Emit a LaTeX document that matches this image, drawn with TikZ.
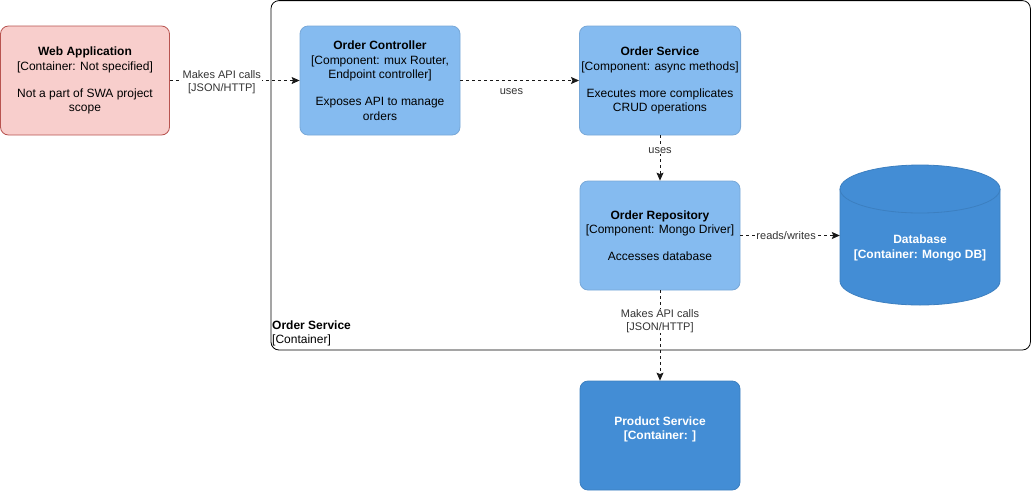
\documentclass[tikz,border=0pt]{standalone}
\usepackage{fontspec}
\setmainfont{Liberation Sans}
\usetikzlibrary{arrows.meta}
\definecolor{webfill}{HTML}{F8CECC}
\definecolor{webline}{HTML}{B85450}
\definecolor{compfill}{HTML}{85BBF0}
\definecolor{compline}{HTML}{78A8D8}
\definecolor{contfill}{HTML}{438DD5}
\definecolor{contline}{HTML}{3C7FC0}
\definecolor{labeltext}{HTML}{333333}
\begin{document}
\begin{tikzpicture}[x=1pt,y=-1pt,
  box/.style={rectangle,rounded corners=8pt,minimum width=160pt,minimum height=109pt,
    align=center,inner sep=2pt,line width=0.8pt,
    font=\fontsize{12}{14.5}\selectfont},
  webbox/.style={box,fill=webfill,draw=webline,text=black},
  compbox/.style={box,fill=compfill,draw=compline,text=black},
  contbox/.style={box,fill=contfill,draw=contline,text=white,font=\fontsize{12}{14.5}\selectfont\bfseries},
  rel/.style={dash pattern=on 3pt off 3pt,line width=0.8pt,draw=black!90,
    -{Stealth[length=8pt,width=7pt,inset=1.5pt]}},
  rellabel/.style={fill=white,inner sep=1pt,align=center,text=labeltext,
    font=\fontsize{11}{12.5}\selectfont}
]
\useasboundingbox (0,0) rectangle (1031,491);

% system boundary
\draw[rounded corners=8pt,line width=0.8pt,fill=white] (271,0.6) rectangle (1030.4,350);
\node[anchor=west,align=left,inner sep=1pt,font=\fontsize{12}{14}\selectfont] (bnd) at (271,333)
  {\textbf{Order Service}\\{[Container]}};

% nodes
\node[webbox,minimum width=169pt] (web) at (85,80.5)
  {\textbf{Web Application}\\{[Container: Not specified]}\\[12.5pt]Not a part of SWA project\\scope};
\node[compbox] (oc) at (380,80.5)
  {\textbf{Order Controller}\\{[Component: mux Router,}\\Endpoint controller]\\[12.5pt]Exposes API to manage\\orders};
\node[compbox] (os) at (660,80.5)
  {\textbf{Order Service}\\{[Component: async methods]}\\[12.5pt]Executes more complicates\\CRUD operations};
\node[compbox] (or) at (660,235.5)
  {\textbf{Order Repository}\\{[Component: Mongo Driver]}\\[12.5pt]Accesses database};
\node[contbox] (ps) at (660,435.5)
  {Product Service\\{[Container: ]}\\\mbox{}};

% database cylinder
\path[fill=contfill,draw=contline,line width=0.8pt]
  (840,189) -- (840,281) arc[start angle=180,end angle=0,x radius=80,y radius=24]
  -- (1000,189) arc[start angle=0,end angle=-180,x radius=80,y radius=24] -- cycle;
\draw[contline,line width=0.8pt] (840,189) arc[start angle=180,end angle=0,x radius=80,y radius=24];
\node[rectangle,minimum width=160pt,minimum height=139pt,inner sep=0pt,align=center,text=white,
  font=\fontsize{12}{14.5}\selectfont\bfseries] (db) at (920,248)
  {Database\\{[Container: Mongo DB]}};

% relationships
\draw[rel] (web.east) -- node[rellabel,pos=0.4,yshift=-1.5pt] {Makes API calls\\{[JSON/HTTP]}} (oc.west);
\draw[rel] (oc.east) -- node[rellabel,pos=0.43,yshift=-11pt] {uses} (os.west);
\draw[rel] (os.south) -- node[rellabel,pos=0.33] {uses} (or.north);
\draw[rel] (or.east) -- node[rellabel,pos=0.46] {reads/writes} (or.east -| db.west);
\draw[rel] (or.south) -- node[rellabel,pos=0.34] {Makes API calls\\{[JSON/HTTP]}} (ps.north);
\end{tikzpicture}
\end{document}
